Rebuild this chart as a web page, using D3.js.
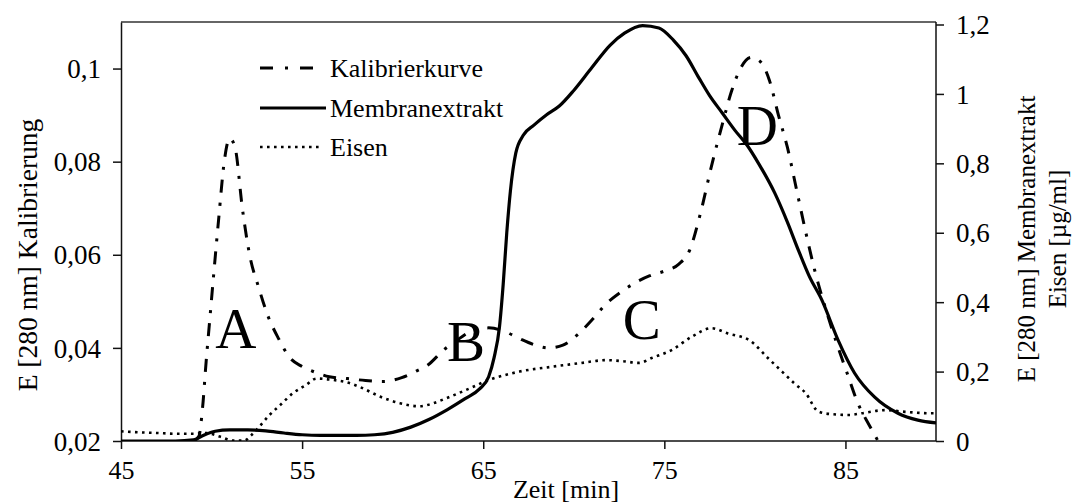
<!DOCTYPE html>
<html>
<head>
<meta charset="utf-8">
<script src="https://cdn.jsdelivr.net/npm/d3@7"></script>
<style>
  html, body { margin: 0; padding: 0; background: #fff; }
  svg { display: block; }
  text { font-family: "Liberation Serif", "DejaVu Serif", "Noto Serif", serif; fill: #000; }
</style>
</head>
<body>
<svg id="chart" width="1074" height="504"></svg>
<script>
// Elution time [min]
const xTicks = [45, 55, 65, 75, 85];
const leftTicks = [0.02, 0.04, 0.06, 0.08, 0.1];
const rightTicks = [0, 0.2, 0.4, 0.6, 0.8, 1, 1.2];

// Calibration curve, E [280 nm] (left axis)
const kalibTime = [49.0, 49.3, 49.5, 49.7, 49.9, 50.1, 50.4, 50.7, 51.0, 51.3, 51.7, 52.1, 52.6, 53.1, 53.7, 54.3, 55.0, 55.7, 56.5, 57.5, 58.5, 59.5, 60.5, 61.3, 62.0, 62.8, 63.5, 64.3, 65.3, 66.2, 67.0, 67.8, 68.6, 69.4, 70.2, 71.0, 71.8, 72.6, 73.4, 74.2, 75.0, 75.8, 76.4, 77.0, 77.6, 78.2, 78.7, 79.2, 79.8, 80.3, 80.8, 81.3, 81.8, 82.3, 82.8, 83.3, 83.9, 84.5, 85.1, 85.7, 86.3, 86.8];
const kalibValue = [0.020, 0.021, 0.027, 0.037, 0.046, 0.055, 0.068, 0.080, 0.085, 0.083, 0.070, 0.060, 0.053, 0.047, 0.042, 0.038, 0.036, 0.0348, 0.0338, 0.0334, 0.0330, 0.0328, 0.0336, 0.0350, 0.0365, 0.0395, 0.0415, 0.0435, 0.0443, 0.0435, 0.0420, 0.0407, 0.0400, 0.0406, 0.0428, 0.0460, 0.0495, 0.0520, 0.0540, 0.0555, 0.0565, 0.0580, 0.0610, 0.0690, 0.0790, 0.0880, 0.0950, 0.1000, 0.1024, 0.1015, 0.0975, 0.0900, 0.0830, 0.0740, 0.0650, 0.0567, 0.0485, 0.0412, 0.0345, 0.0280, 0.0235, 0.0200];

// Membrane extract, E [280 nm] (right axis)
const membranTime = [45, 48, 49, 49.5, 50.2, 51, 52, 53, 54, 55, 56, 57, 58, 59, 60, 61, 62, 63, 64, 64.8, 65.3, 65.6, 65.9, 66.1, 66.3, 66.5, 66.8, 67.2, 67.8, 68.5, 69.2, 70.0, 71.0, 72.0, 72.8, 73.8, 74.7, 75.5, 76.2, 76.9, 77.5, 78.2, 78.9, 79.6, 80.2, 81.1, 81.8, 82.4, 83.0, 83.7, 84.6, 85.5, 86.6, 87.9, 89.0, 90.0];
const membranValue = [0, 0, 0.003, 0.015, 0.028, 0.032, 0.032, 0.029, 0.023, 0.018, 0.016, 0.016, 0.016, 0.018, 0.025, 0.040, 0.062, 0.090, 0.122, 0.150, 0.185, 0.240, 0.330, 0.450, 0.600, 0.720, 0.830, 0.880, 0.910, 0.940, 0.965, 1.010, 1.076, 1.140, 1.175, 1.197, 1.190, 1.155, 1.110, 1.047, 0.995, 0.945, 0.895, 0.850, 0.800, 0.714, 0.630, 0.550, 0.475, 0.406, 0.290, 0.196, 0.127, 0.080, 0.060, 0.052];

// Iron, µg/ml (right axis)
const eisenTime = [45, 46, 47, 48, 49, 49.7, 50.5, 51.2, 51.8, 52.2, 52.7, 53.2, 53.8, 54.5, 55.2, 55.8, 56.5, 57.4, 58.3, 59.3, 60.4, 61.5, 62.2, 63.0, 64.4, 65.3, 66.2, 67.0, 68.8, 70.3, 71.8, 72.7, 73.6, 74.3, 75.4, 76.5, 77.6, 78.5, 79.7, 80.8, 81.5, 82.2, 82.8, 83.5, 84.1, 85.2, 85.9, 87.2, 88.3, 89.7, 90.0];
const eisenValue = [0.028, 0.025, 0.023, 0.021, 0.021, 0.023, 0.012, 0.001, 0.001, 0.017, 0.045, 0.075, 0.104, 0.138, 0.161, 0.180, 0.177, 0.170, 0.153, 0.128, 0.109, 0.100, 0.108, 0.124, 0.155, 0.176, 0.190, 0.200, 0.214, 0.224, 0.233, 0.230, 0.225, 0.239, 0.262, 0.300, 0.325, 0.310, 0.290, 0.235, 0.200, 0.165, 0.138, 0.085, 0.078, 0.075, 0.080, 0.089, 0.084, 0.080, 0.080];

// Peak labels
const peakNames = ["A", "B", "C", "D"];
const peakTime = [50.2, 63.0, 72.7, 79.0];
const peakValue = [0.0400, 0.0372, 0.0419, 0.0836];

const legendNames = ["Kalibrierkurve", "Membranextrakt", "Eisen"];

const svg = d3.select("#chart");
const L = 121, R = 936, T = 22, B = 441;

const x = d3.scaleLinear().domain([45, 90]).range([L, R]);
const yL = d3.scaleLinear().domain([0.02, 0.11]).range([B, T]);
const yR = d3.scaleLinear().domain([0, 1.2]).range([B, 24.5]);

const fmt = d => d3.format("~g")(d).replace(".", ",");

// clip for the curves
svg.append("defs").append("clipPath").attr("id", "plotclip")
  .append("rect").attr("x", L).attr("y", T - 2).attr("width", R - L).attr("height", B - T + 2);

// frame top line
svg.append("line").attr("x1", L).attr("x2", R).attr("y1", T).attr("y2", T)
  .attr("stroke", "#333").attr("stroke-width", 1.5);

function styleAxis(g, size) {
  g.attr("font-family", null);
  g.select(".domain").attr("stroke", "#111").attr("stroke-width", 1.5);
  g.selectAll(".tick line").attr("stroke", "#111").attr("stroke-width", 1.5);
  g.selectAll(".tick text").attr("font-size", size).attr("fill", "#000");
}

// bottom axis
const gx = svg.append("g").attr("transform", `translate(0,${B})`)
  .call(d3.axisBottom(x).tickValues(xTicks).tickFormat(fmt).tickSize(8).tickSizeOuter(0).tickPadding(12));
gx.select(".domain").attr("d", `M${L},0H${R}`);
styleAxis(gx, 26);

// left axis
const gl = svg.append("g").attr("transform", `translate(${L},0)`)
  .call(d3.axisLeft(yL).tickValues(leftTicks).tickFormat(fmt).tickSize(8).tickSizeOuter(0).tickPadding(12));
styleAxis(gl, 27);
gl.selectAll(".tick text").attr("dy", "0.34em");

// right axis
const gr = svg.append("g").attr("transform", `translate(${R},0)`)
  .call(d3.axisRight(yR).tickValues(rightTicks).tickFormat(fmt).tickSize(8).tickSizeOuter(0).tickPadding(12));
gr.select(".domain").attr("d", `M0,${T}V${B}`);
styleAxis(gr, 27);
gr.selectAll(".tick text").attr("dy", "0.34em");

// axis titles
svg.append("text").attr("x", 566).attr("y", 498).attr("text-anchor", "middle")
  .attr("font-size", 26).text("Zeit [min]");
svg.append("text").attr("transform", "translate(37,255) rotate(-90)").attr("text-anchor", "middle")
  .attr("font-size", 27.5).text("E [280 nm] Kalibrierung");
svg.append("text").attr("transform", "translate(1035,239) rotate(-90)").attr("text-anchor", "middle")
  .attr("font-size", 25).text("E [280 nm] Membranextrakt");
svg.append("text").attr("transform", "translate(1066,239) rotate(-90)").attr("text-anchor", "middle")
  .attr("font-size", 25).text("Eisen [µg/ml]");

// curves
const plot = svg.append("g").attr("clip-path", "url(#plotclip)");
const lineL = d3.line().x(d => x(d[0])).y(d => yL(d[1])).curve(d3.curveMonotoneX);
const lineR = d3.line().x(d => x(d[0])).y(d => yR(d[1])).curve(d3.curveMonotoneX);

const styles = [
  { dash: "13,10,3,10", width: 3 },
  { dash: null, width: 3.2 },
  { dash: "2.6,4.4", width: 2.6 }
];

plot.append("path").datum(d3.zip(eisenTime, eisenValue)).attr("d", lineR)
  .attr("fill", "none").attr("stroke", "#000").attr("stroke-width", styles[2].width)
  .attr("stroke-dasharray", styles[2].dash);
plot.append("path").datum(d3.zip(membranTime, membranValue)).attr("d", lineR)
  .attr("fill", "none").attr("stroke", "#000").attr("stroke-width", styles[1].width);
plot.append("path").datum(d3.zip(kalibTime, kalibValue)).attr("d", lineL)
  .attr("fill", "none").attr("stroke", "#000").attr("stroke-width", styles[0].width)
  .attr("stroke-dasharray", styles[0].dash);

// peak letters
svg.selectAll("text.peak").data(d3.zip(peakNames, peakTime, peakValue)).join("text")
  .attr("class", "peak")
  .attr("x", d => x(d[1])).attr("y", d => yL(d[2]))
  .attr("font-size", 57).text(d => d[0]);

// legend
const legend = svg.append("g");
const legY = [68, 108, 147];
const legEnd = [314, 326, 322];
legendNames.forEach((name, i) => {
  const ln = legend.append("line").attr("x1", 260).attr("x2", legEnd[i])
    .attr("y1", legY[i]).attr("y2", legY[i])
    .attr("stroke", "#000").attr("stroke-width", styles[i].width);
  if (styles[i].dash) ln.attr("stroke-dasharray", i === 0 ? "13,12,3,12" : styles[i].dash);
  legend.append("text").attr("x", 330).attr("y", legY[i] + 9).attr("font-size", 26).text(name);
});
</script>
</body>
</html>
